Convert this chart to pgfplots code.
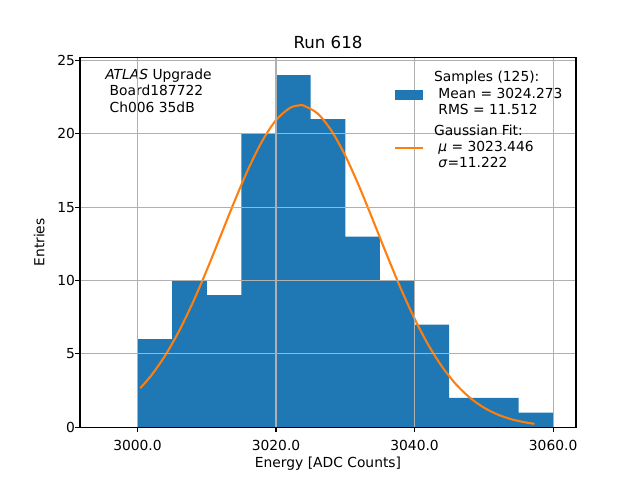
\documentclass[border=0pt]{standalone}
\usepackage{fontspec}
\setmainfont{DejaVu Sans}
\usepackage{pgfplots}
\pgfplotsset{compat=1.18}
\definecolor{mplblue}{HTML}{1F77B4}
\definecolor{mplorange}{HTML}{FF7F0E}
\definecolor{mplgrid}{HTML}{B0B0B0}
\begin{document}
\fontsize{10}{12}\selectfont
\begin{tikzpicture}
\path[use as bounding box] (0,0) rectangle (6.4in,4.8in);
\begin{axis}[
  axis on top,
  at={(0.8in,0.528in)}, anchor=south west,
  scale only axis, width=4.96in, height=3.696in,
  xmin=2991.7, xmax=3063.3, ymin=0, ymax=25.2,
  xtick={3000,3020,3040,3060}, ytick={0,5,10,15,20,25},
  xtick pos=left, ytick pos=left, tick align=outside,
  major tick length=3.5pt,
  every tick/.style={black, line width=0.8pt},
  axis line style={black, line width=0.8pt},
  grid=major, major grid style={mplgrid, line width=0.8pt},
  /pgf/number format/assume math mode=true,
  xticklabel style={/pgf/number format/fixed, /pgf/number format/fixed zerofill, /pgf/number format/precision=1, /pgf/number format/1000 sep={}, anchor=base, inner sep=0pt, yshift=-13pt},
  yticklabel style={anchor=east, inner sep=0pt},
  ticklabel style={font=\fontsize{10}{12}\selectfont},
  xlabel={Energy [ADC Counts]},
  ylabel={Entries},
  every axis x label/.style={at={(axis description cs:0.5,0)}, anchor=base, yshift=-29pt, font=\fontsize{10}{12}\selectfont},
  every axis y label/.style={at={(axis description cs:-0.082,0.5)}, rotate=90, anchor=center, font=\fontsize{10}{12}\selectfont},
  title={Run 618},
  every axis title/.style={at={(axis description cs:0.5,1)}, anchor=base, yshift=6.3pt, font=\fontsize{12}{14}\selectfont},
  legend style={draw=none, fill=none, at={(axis description cs:0.633,0.9665)}, anchor=north west, inner sep=0pt, row sep=0pt,
    font=\fontsize{10}{12}\selectfont, nodes={inner sep=0pt, text height=8.3pt, text depth=3.5pt}},
  legend cell align=left,
]
\addplot[ybar interval, fill=mplblue, draw=none, forget plot]
  coordinates {(3000,6) (3005,10) (3010,9) (3015,20) (3020,24) (3025,21) (3030,13) (3035,10) (3040,7) (3045,2) (3050,2) (3055,1) (3060,1)};
\addplot[mplorange, line width=1.5pt, smooth, forget plot]
  coordinates {(3000.4,2.665) (3002,3.535) (3004,4.891) (3006,6.556) (3008,8.512) (3010,10.708) (3012,13.048) (3014,15.402) (3016,17.613) (3018,19.512) (3020,20.939) (3022,21.768) (3023.446,21.95) (3024,21.923) (3026,21.389) (3028,20.215) (3030,18.508) (3032,16.416) (3034,14.105) (3036,11.740) (3038,9.467) (3040,7.395) (3042,5.596) (3044,4.102) (3046,2.913) (3048,2.004) (3050,1.335) (3052,0.862) (3054,0.539) (3056,0.3267) (3057.3,0.2319)};
\addlegendimage{empty legend}
\addlegendentry{Samples (125):}
\addlegendimage{legend image code/.code={\fill[mplblue, draw=none] (0pt,-3.5pt) rectangle (20pt,3.5pt); \path[draw=none, fill=none] (0pt,0pt) -- (28pt,0pt);}}
\addlegendentry{\ Mean = 3024.273}
\addlegendimage{empty legend}
\addlegendentry{\ RMS = 11.512}
\addlegendimage{empty legend}
\addlegendentry[text height=11.5pt]{Gaussian Fit:}
\addlegendimage{legend image code/.code={\draw[mplorange, line width=1.5pt] (0pt,0pt) -- (20pt,0pt); \path[draw=none, fill=none] (0pt,0pt) -- (28pt,0pt);}}
\addlegendentry{\ \textit{μ} = 3023.446}
\addlegendimage{empty legend}
\addlegendentry{\ \textit{σ}=11.222}
\node[anchor=north west, inner sep=0pt, align=left, font=\fontsize{10}{12}\selectfont] at (axis description cs:0.0504,0.9705) {\textit{ATLAS} Upgrade\\ \ Board187722\\ \ Ch006 35dB};
\end{axis}
\end{tikzpicture}
\end{document}
